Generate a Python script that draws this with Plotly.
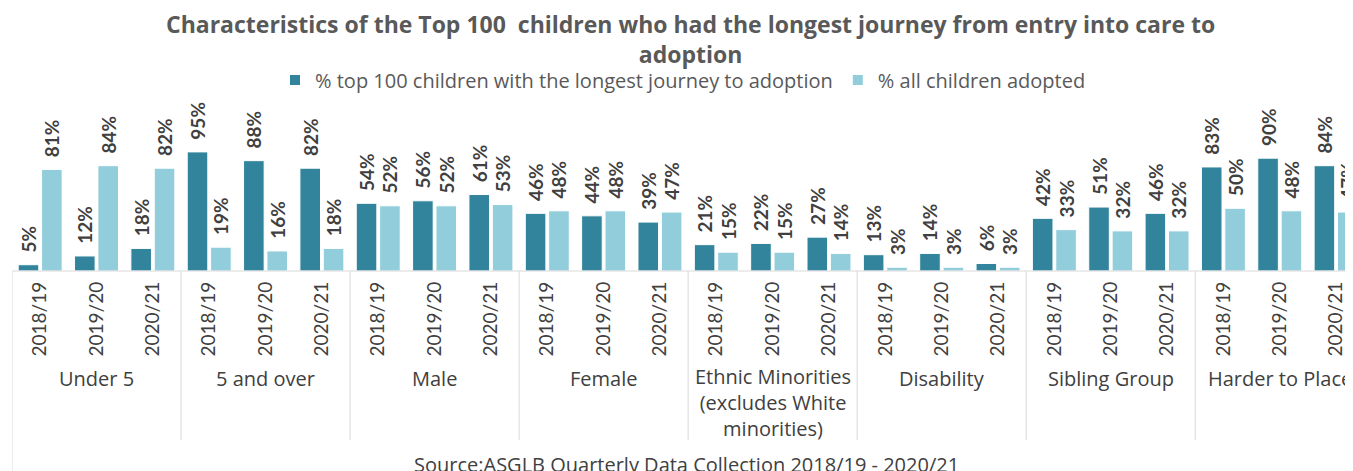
import plotly.graph_objects as go

groups = ["Under 5", "5 and over", "Male", "Female",
          "Ethnic Minorities<br>(excludes White<br>minorities)", "Disability",
          "Sibling Group", "Harder to Place"]
years = ["2018/19", "2019/20", "2020/21"]
top100 = [5, 12, 18, 95, 88, 82, 54, 56, 61, 46, 44, 39, 21, 22, 27,
          13, 14, 6, 42, 51, 46, 83, 90, 84]
all_adopted = [81, 84, 82, 19, 16, 18, 52, 52, 53, 48, 48, 47, 15, 15, 14,
               3, 3, 3, 33, 32, 32, 50, 48, 47]
series_names = ["% top 100 children with the longest journey to adoption",
                "% all children adopted"]

VFONT = "Lato, Liberation Sans, Arial, sans-serif"
HFONT = "Open Sans, Lato, Liberation Sans, sans-serif"
DARK = "#31849B"
LIGHT = "#92CDDC"
TXT = "#404040"
TITLE_C = "#595959"

# page offset (body margin) compensation
OFF = 8
PLOT_L, PLOT_R, PLOT_T, BASE = 12, 1353, 103, 271   # target pixels in the screenshot
H_PLOT = BASE - PLOT_T
W_PLOT = PLOT_R - PLOT_L

def pyp(y):   # screenshot pixel y -> paper y
    return (BASE - y) / H_PLOT

def pxp(x):   # screenshot pixel x -> paper x
    return (x - PLOT_L) / W_PLOT

n = len(groups) * len(years)
xs = list(range(n))
ticktext = [years[i % 3] for i in xs]

fig = go.Figure()
for vals, name, col in [(top100, series_names[0], DARK),
                        (all_adopted, series_names[1], LIGHT)]:
    fig.add_trace(go.Bar(
        x=xs, y=vals, name=name, marker=dict(color=col, line=dict(color="white", width=1)),
        text=["\u00a0\u00a0" + f"{v}%" for v in vals], textposition="outside", textangle=-90,
        constraintext="none",
        textfont=dict(family=VFONT, size=19, color=TXT, weight="bold"),
        cliponaxis=False,
    ))

shapes = []
for g in range(1, len(groups)):
    xb = g * 3 - 0.5
    shapes.append(dict(type="line", xref="x", yref="paper", x0=xb, x1=xb,
                       y0=0, y1=pyp(440), line=dict(color="#D9D9D9", width=1)))
shapes.append(dict(type="line", xref="x", yref="paper", x0=-0.5, x1=-0.5,
                   y0=0, y1=pyp(480), line=dict(color="#D9D9D9", width=1)))
shapes.append(dict(type="line", xref="x", yref="paper", x0=-0.5, x1=23.5,
                   y0=0, y1=0, line=dict(color="#D9D9D9", width=1)))

annotations = []
for g, name in enumerate(groups):
    nlines = name.count("<br>") + 1
    annotations.append(dict(x=g * 3 + 1, y=pyp(378 + 12 * (nlines - 1)), xref="x", yref="paper",
                            text=name, showarrow=False, yanchor="middle",
                            font=dict(family=HFONT, size=20, color=TXT),
                            align="center"))
annotations.append(dict(x=pxp(686), y=pyp(464), xref="paper", yref="paper",
                        text="Source:ASGLB Quarterly Data Collection 2018/19 - 2020/21",
                        showarrow=False, yanchor="middle", xanchor="center",
                        font=dict(family=HFONT, size=20, color=TXT)))
annotations.append(dict(x=pxp(690), y=pyp(39), xref="paper", yref="paper",
                        text="<b>Characteristics of the Top 100  children who had the longest journey from entry into care to<br>adoption</b>",
                        showarrow=False, yanchor="middle", xanchor="center", align="center",
                        font=dict(family=HFONT, size=23, color=TITLE_C)))

fig.update_layout(
    width=1353, height=471,
    margin=dict(l=PLOT_L - OFF, r=1353 - (PLOT_R - OFF), t=PLOT_T - OFF,
                b=471 - (BASE - OFF), autoexpand=False),
    paper_bgcolor="white", plot_bgcolor="white",
    barmode="group", bargap=0.17, bargroupgap=0.12,
    legend=dict(orientation="h", x=pxp(683), xanchor="center", y=pyp(80), yanchor="middle",
                font=dict(family=HFONT, size=20, color=TITLE_C),
                itemsizing="constant", traceorder="normal", itemwidth=30),
    xaxis=dict(tickmode="array", tickvals=xs, ticktext=ticktext, tickangle=-90,
               range=[-0.5, 23.3], showgrid=False, zeroline=False, showline=False,
               ticks="", ticklen=0, ticklabelstandoff=6,
               tickfont=dict(family=VFONT, size=19, color=TXT)),
    yaxis=dict(range=[0, 134], visible=False, fixedrange=True),
    shapes=shapes, annotations=annotations,
    showlegend=True,
)

fig.write_html("out.html")
